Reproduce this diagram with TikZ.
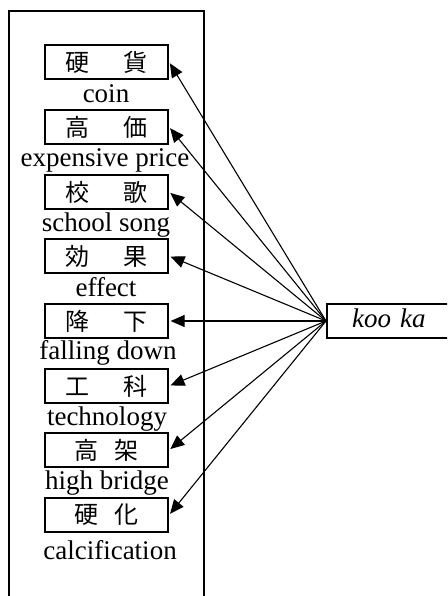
\documentclass[tikz,border=0pt]{standalone}
\usepackage{fontspec}
\setmainfont{Liberation Serif}
\newfontfamily\cjk{Noto Sans CJK JP}
\usetikzlibrary{arrows.meta}
\begin{document}
\begin{tikzpicture}[x=1pt,y=-1pt,
  wordbox/.style={draw,line width=2.2pt,minimum width=123pt,minimum height=34pt,inner sep=0pt,font=\cjk\fontsize{24}{24}\selectfont},
  gloss/.style={inner sep=0pt,font=\fontsize{27}{30}\selectfont,text height=18pt,text depth=5pt},
  link/.style={line width=1.1pt,-{Triangle[length=14pt,width=12pt]},shorten >=1.5pt},
  frameline/.style={line width=2.2pt}]
\useasboundingbox (0,0) rectangle (447,596);
\clip (0,0) rectangle (447,596);
\draw[frameline] (9,605) -- (9,11) -- (204,11) -- (204,605);

\node[wordbox] (b1) at (106.5,62)  {硬\hspace{34pt}貨};
\node[wordbox] (b2) at (106.5,127) {高\hspace{34pt}価};
\node[wordbox] (b3) at (106.5,192) {校\hspace{34pt}歌};
\node[wordbox] (b4) at (106.5,256) {効\hspace{34pt}果};
\node[wordbox] (b5) at (106.5,321) {降\hspace{34pt}下};
\node[wordbox] (b6) at (106.5,386) {工\hspace{34pt}科};
\node[wordbox] (b7) at (106.5,450) {高\hspace{17pt}架};
\node[wordbox] (b8) at (106.5,515) {硬\hspace{17pt}化};

\node[gloss] (g1) at (106,96)  {coin};
\node[gloss] (g2) at (105,160) {expensive price};
\node[gloss] (g3) at (106,225) {school song};
\node[gloss] (g4) at (106,290) {effect};
\node[gloss] (g5) at (108,353) {falling down};
\node[gloss] (g6) at (107,419) {technology};
\node[gloss] (g7) at (107,483) {high bridge};
\node[gloss] (g8) at (110,553) {calcification};

\node[draw,line width=2.2pt,anchor=west,minimum height=34pt,inner xsep=25pt,inner ysep=0pt,
  text width=140pt,align=left,font=\itshape\fontsize{27}{30}\selectfont,text height=18pt,text depth=5pt]
  (kooka) at (326,321) {koo ka};

\foreach \i in {1,...,8} \draw[link] (kooka.west) -- (b\i.east);
\end{tikzpicture}
\end{document}
